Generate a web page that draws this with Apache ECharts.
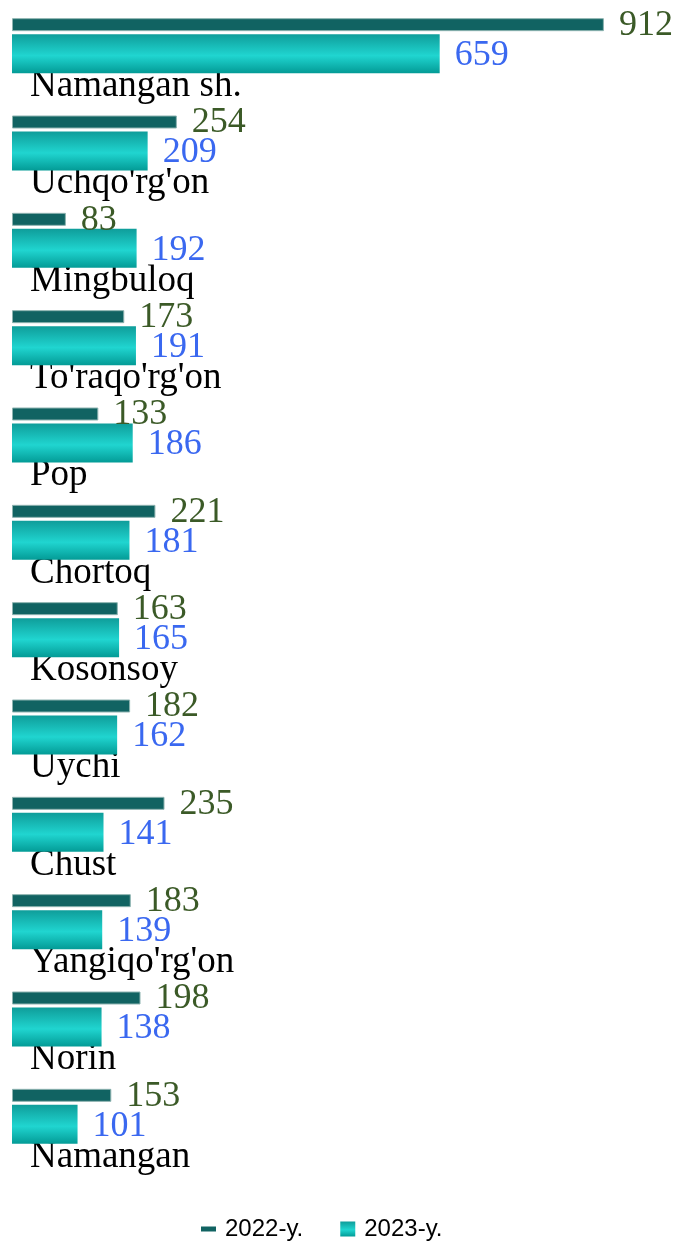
<!DOCTYPE html>
<html>
<head>
<meta charset="utf-8">
<script src="https://cdn.jsdelivr.net/npm/echarts@6/dist/echarts.min.js"></script>
<style>
    html, body { margin: 0; padding: 0; background: #ffffff; }
    #container { width: 680px; height: 1241px; }
</style>
</head>
<body>
<div id="container"></div>
<script>
var categories = ["Namangan sh.", "Uchqo'rg'on", "Mingbuloq", "To'raqo'rg'on", "Pop", "Chortoq",
    "Kosonsoy", "Uychi", "Chust", "Yangiqo'rg'on", "Norin", "Namangan"];
var values2022 = [912, 254, 83, 173, 133, 221, 163, 182, 235, 183, 198, 153];
var values2023 = [659, 209, 192, 191, 186, 181, 165, 162, 141, 139, 138, 101];
var seriesNames = ['2022-y.', '2023-y.'];

var dom = document.getElementById("container");
var myChart = echarts.init(dom);

var gradient2023 = new echarts.graphic.LinearGradient(0, 0, 0, 1, [
    { offset: 0, color: '#0f9d9a' },
    { offset: 0.55, color: '#20d5d0' },
    { offset: 1, color: '#039b96' }
]);

var option = {
    animation: false,
    grid: {
        left: 12,
        right: 19,
        top: -3,
        height: 1168,
        outerBoundsMode: 'none'
    },
    legend: {
        left: 196,
        top: 1212,
        itemWidth: 15,
        itemHeight: 15,
        itemGap: 37,
        selectedMode: false,
        textStyle: {
            fontFamily: 'Liberation Sans',
            fontSize: 24,
            color: '#000000',
            padding: [0, 0, 0, 4]
        },
        data: [
            {
                name: seriesNames[0],
                icon: 'path://M0,0 L0,0 M0,5 L15,5 L15,10 L0,10 Z M15,15 L15,15',
                itemStyle: { borderWidth: 0 }
            },
            { name: seriesNames[1], icon: 'rect' }
        ]
    },
    xAxis: {
        type: 'value',
        min: 0,
        max: 1000,
        show: false
    },
    yAxis: {
        type: 'category',
        inverse: true,
        data: categories,
        axisLine: { show: false },
        axisTick: { show: false },
        splitLine: { show: false },
        axisLabel: {
            inside: true,
            interval: 0,
            margin: 18,
            // empty first line pushes the name below the bars
            formatter: function (name) {
                return '\n' + name;
            },
            lineHeight: 81,
            fontFamily: 'Liberation Serif',
            fontSize: 37,
            color: '#000000'
        }
    },
    series: [
        {
            name: seriesNames[0],
            type: 'bar',
            data: values2022,
            barWidth: 13,
            barGap: '23%',
            itemStyle: {
                color: '#116362',
                borderColor: '#8db3b0',
                borderWidth: 1
            },
            label: {
                show: true,
                position: 'right',
                distance: 15,
                offset: [0, 1],
                fontFamily: 'Liberation Serif',
                fontSize: 36,
                color: '#3b5a27'
            }
        },
        {
            name: seriesNames[1],
            type: 'bar',
            data: values2023,
            barWidth: 39,
            barGap: '23%',
            itemStyle: {
                color: gradient2023
            },
            label: {
                show: true,
                position: 'right',
                distance: 15,
                offset: [0, 2],
                fontFamily: 'Liberation Serif',
                fontSize: 36,
                color: '#3a68f0'
            }
        }
    ]
};

myChart.setOption(option);
</script>
</body>
</html>
